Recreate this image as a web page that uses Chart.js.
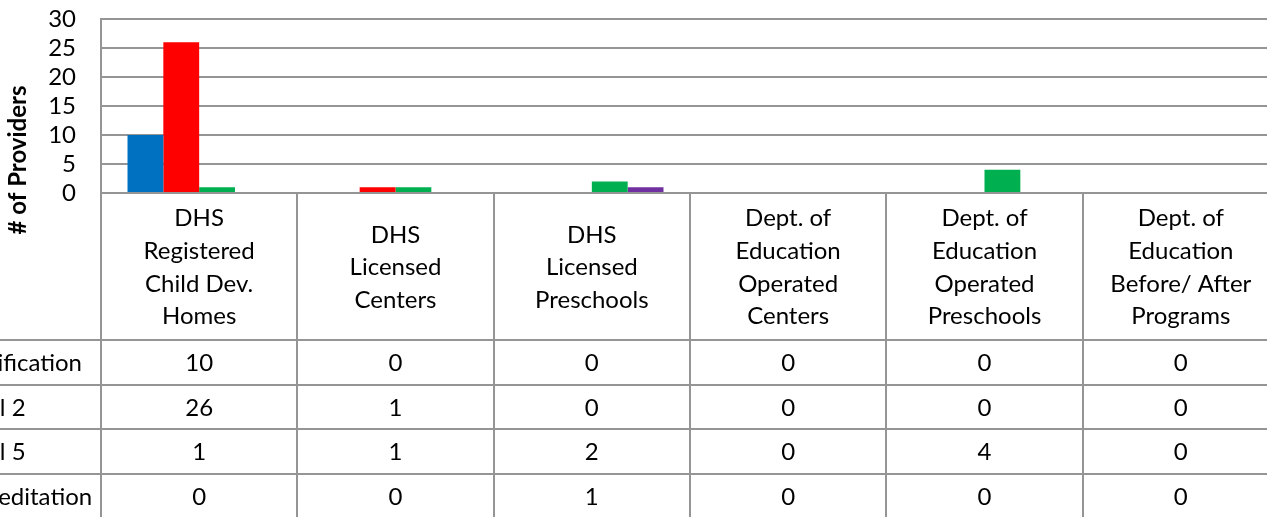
<!DOCTYPE html>
<html>
<head>
<meta charset="utf-8">
<script src="https://cdn.jsdelivr.net/npm/chart.js@4.4.0/dist/chart.umd.min.js"></script>
<style>
  html, body { margin: 0; padding: 0; background: #fff; overflow: hidden; }
  /* the reference is a crop of a wider chart, so the canvas starts left of the window */
  #wrap { position: absolute; left: -60px; top: 0; width: 1360px; height: 517px; }
</style>
</head>
<body>
<div id="wrap"><canvas id="myChart"></canvas></div>
<script>
const categories = [
  ['DHS', 'Registered', 'Child Dev.', 'Homes'],
  ['DHS', 'Licensed', 'Centers'],
  ['DHS', 'Licensed', 'Preschools'],
  ['Dept. of', 'Education', 'Operated', 'Centers'],
  ['Dept. of', 'Education', 'Operated', 'Preschools'],
  ['Dept. of', 'Education', 'Before/ After', 'Programs']
];
const seriesNames = ['Certification', 'Level 2', 'Level 5', 'Accreditation'];
const certification = [10, 0, 0, 0, 0, 0];
const level2 = [26, 1, 0, 0, 0, 0];
const level5 = [1, 1, 2, 0, 4, 0];
const accreditation = [0, 0, 1, 0, 0, 0];
const seriesColors = ['#0070C0', '#FF0000', '#00B050', '#7030A0'];
const yTicks = [0, 5, 10, 15, 20, 25, 30];

const gridColor = '#959595';
const fontFamily = 'Lato, "Open Sans", sans-serif';
const fontSize = 24;
const seriesValues = [certification, level2, level5, accreditation];

// data table under the plot + axis title
const tablePlugin = {
  id: 'dataTable',
  afterDatasetsDraw(chart) {
    const ctx = chart.ctx;
    const xs = chart.scales.x;
    const area = chart.chartArea;
    const colW = (area.right - area.left) / categories.length;
    const top = area.bottom;
    const headerH = 147;
    const rowH = 44.7;
    const H = chart.height;

    ctx.save();
    ctx.strokeStyle = gridColor;
    ctx.lineWidth = 2;
    ctx.beginPath();
    ctx.moveTo(area.left, area.top);
    ctx.lineTo(area.left, H);
    for (let i = 1; i <= categories.length; i++) {
      const px = Math.round(area.left + i * colW);
      ctx.moveTo(px, top);
      ctx.lineTo(px, H);
    }
    for (let r = 0; r < seriesNames.length; r++) {
      const py = Math.round(top + headerH + r * rowH);
      ctx.moveTo(0, py);
      ctx.lineTo(chart.width, py);
    }
    ctx.stroke();

    ctx.fillStyle = '#000';
    ctx.font = fontSize + 'px ' + fontFamily;
    ctx.textAlign = 'center';
    ctx.textBaseline = 'middle';
    const lineH = 32.7;
    categories.forEach((lines, i) => {
      const cx = xs.getPixelForValue(i);
      const cy = top + headerH / 2 + 1;
      lines.forEach((t, j) => {
        ctx.fillText(t, cx, cy + (j - (lines.length - 1) / 2) * lineH);
      });
      seriesValues.forEach((vals, r) => {
        ctx.fillText(String(vals[i]), cx, top + headerH + (r + 0.5) * rowH + 1);
      });
    });

    // row labels, left aligned, mostly cut off by the window edge
    ctx.textAlign = 'left';
    const labelX = 142 - ctx.measureText(seriesNames[0]).width;
    seriesNames.forEach((name, r) => {
      ctx.fillText(name, labelX, top + headerH + (r + 0.5) * rowH + 1);
    });

    ctx.font = 'bold ' + fontSize + 'px ' + fontFamily;
    ctx.textAlign = 'center';
    ctx.translate(78, 160);
    ctx.rotate(-Math.PI / 2);
    ctx.fillText('# of Providers', 0, 0);
    ctx.restore();
  }
};

const myChart = new Chart(document.getElementById('myChart'), {
  type: 'bar',
  data: {
    labels: categories,
    datasets: seriesNames.map((name, k) => ({
      label: name,
      data: seriesValues[k],
      backgroundColor: seriesColors[k],
      borderWidth: 0,
      categoryPercentage: 0.73,
      barPercentage: 1.0
    }))
  },
  options: {
    responsive: true,
    maintainAspectRatio: false,
    animation: false,
    layout: {
      padding: { left: 0, right: 21, top: 19, bottom: 324 }
    },
    scales: {
      x: {
        display: false
      },
      y: {
        min: 0,
        max: 30,
        afterBuildTicks: (s) => { s.ticks = yTicks.map(v => ({ value: v })); },
        afterFit: (s) => { s.width = 161; s.paddingTop = 0; s.paddingBottom = 0; },
        ticks: {
          color: '#000',
          padding: 25,
          autoSkip: false,
          font: { family: fontFamily, size: fontSize }
        },
        grid: {
          color: gridColor,
          lineWidth: 2,
          drawTicks: false
        },
        border: { display: true, color: gridColor, width: 2 }
      }
    },
    plugins: {
      legend: { display: false },
      tooltip: { enabled: false }
    }
  },
  plugins: [tablePlugin]
});
</script>
</body>
</html>
